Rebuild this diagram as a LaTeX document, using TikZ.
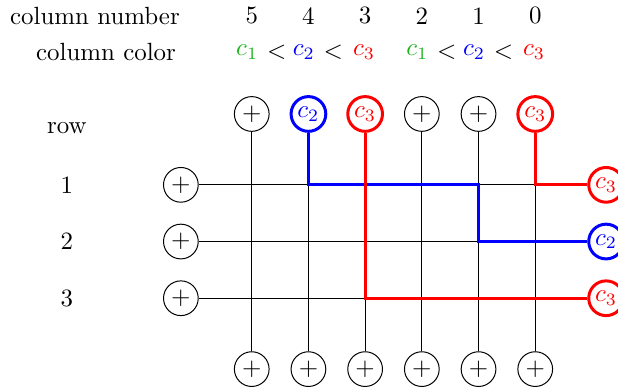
\documentclass[tikz,border=0pt]{standalone}
\usepackage{tikz}
\usetikzlibrary{positioning,calc}
\definecolor{cgreen}{RGB}{30,180,30}
\definecolor{cblue}{RGB}{0,0,255}
\definecolor{cred}{RGB}{255,0,0}
\tikzset{
  adder/.style={circle,draw=#1,text=#1,minimum size=0.49cm,inner sep=0pt},
  adder/.default=black,
  colored/.style={adder=#1,line width=1.2pt},
  wire/.style={draw=black,thin},
  hot/.style={draw=#1,line width=1.2pt},
  hot/.default=cred,
  tag/.style={inner sep=1pt},
}

\begin{document}
\begin{tikzpicture}[x=0.8cm,y=0.8cm]
  \useasboundingbox (0,0) rectangle (10.9,6.86);
  % header
  \node[tag] (colnum) at (1.675,6.58) {column number};
  \node[tag] (colcol) at (1.87,5.94) {column color};
  \node[tag] (rowlbl) at (1.18,4.6) {row};
  \foreach \c in {0,...,5}
    \node[tag] (num\c) at ({9.44-\c},6.58) {\c};
  \foreach \c/\k/\col/\dx in {5/1/cgreen/-0.08,4/2/cblue/-0.08,3/3/cred/-0.02,
                              2/1/cgreen/-0.08,1/2/cblue/-0.08,0/3/cred/-0.02}
    \node[tag,text=\col] (cc\c) at ({9.44-\c+\dx},5.94) {$c_\k$};
  \foreach \c in {5,4,2,1}
    \node[tag] (lt\c) at ({9.44-\c+0.44},5.94) {$<$};
  % top and bottom column nodes
  \foreach \c in {5,2,1}
    \node[adder] (top\c) at ({9.44-\c},4.85) {$+$};
  \node[colored=cblue] (top4) at (5.44,4.85) {$c_2$};
  \node[colored=cred] (top3) at (6.44,4.85) {$c_3$};
  \node[colored=cred] (top0) at (9.44,4.85) {$c_3$};
  \foreach \c in {0,...,5}
    \node[adder] (bot\c) at ({9.44-\c},0.35) {$+$};
  % rows
  \foreach \r in {1,2,3}{
    \node[tag] (rnum\r) at (1.18,{4.6-\r}) {\r};
    \node[adder] (left\r) at (3.19,{4.6-\r}) {$+$};
  }
  \node[colored=cred] (right1) at (10.69,3.6) {$c_3$};
  \node[colored=cblue] (right2) at (10.69,2.6) {$c_2$};
  \node[colored=cred] (right3) at (10.69,1.6) {$c_3$};
  % grid
  \foreach \c in {0,...,5}
    \draw[wire] (top\c) -- (bot\c);
  \foreach \r in {1,2,3}
    \draw[wire] (left\r) -- (right\r);
  % colored paths
  \draw[hot=cblue] (top4) |- (top1 |- left1) |- (right2);
  \draw[hot] (top3) |- (right3);
  \draw[hot] (top0) |- (right1);
\end{tikzpicture}
\end{document}
